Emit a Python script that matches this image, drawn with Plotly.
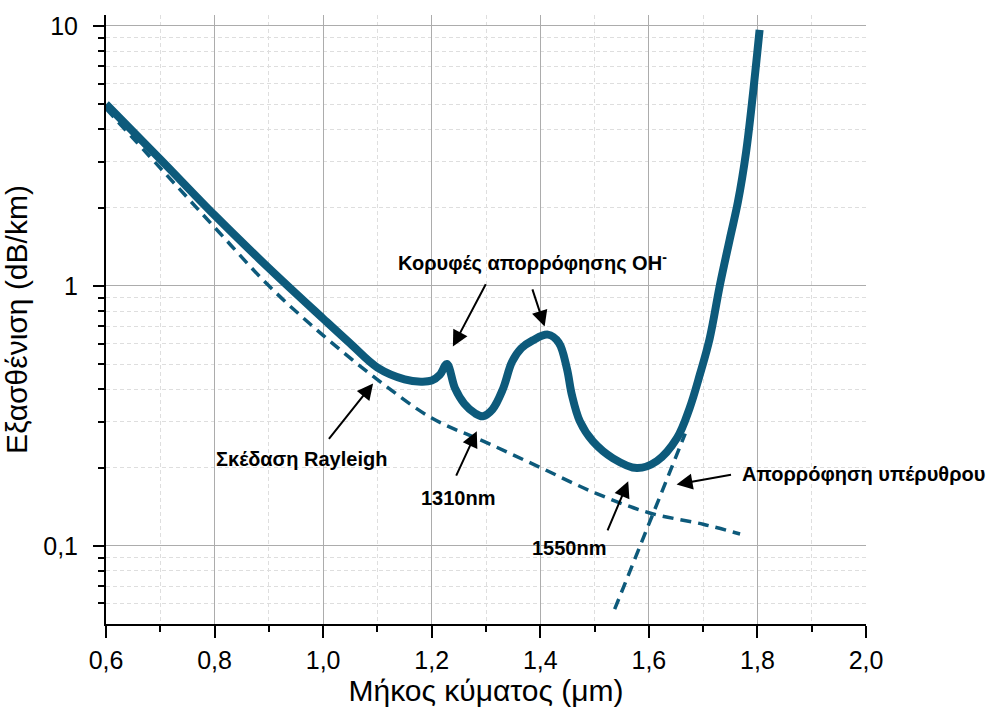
import math
import plotly.graph_objects as go

# ---- data ----
wl_total = [0.60, 0.70, 0.80, 0.90, 1.00, 1.05, 1.10, 1.15, 1.18, 1.20, 1.215, 1.228,
            1.243, 1.26, 1.28, 1.294, 1.312, 1.331, 1.348, 1.365, 1.386, 1.414, 1.434,
            1.449, 1.458, 1.473, 1.497, 1.534, 1.578, 1.615, 1.652, 1.675, 1.694,
            1.712, 1.731, 1.749, 1.764, 1.779, 1.790, 1.804]
att_total = [5.0, 3.07, 1.87, 1.17, 0.748, 0.60, 0.485, 0.437, 0.428, 0.432, 0.455, 0.50,
             0.403, 0.352, 0.323, 0.315, 0.335, 0.40, 0.51, 0.575, 0.617, 0.649, 0.605,
             0.481, 0.382, 0.301, 0.252, 0.217, 0.199, 0.212, 0.26, 0.338, 0.456,
             0.627, 1.01, 1.51, 2.1, 3.26, 5.07, 9.66]

wl_rayleigh = [0.60, 0.70, 0.80, 0.90, 1.00, 1.10, 1.20, 1.30, 1.40, 1.50, 1.60, 1.70, 1.768]
att_rayleigh = [4.8, 2.84, 1.68, 1.0, 0.645, 0.436, 0.31, 0.25, 0.2, 0.16, 0.134, 0.121, 0.111]

wl_ir = [1.537, 1.602, 1.667]
att_ir = [0.057, 0.124, 0.27]

x_ticks = [0.6, 0.8, 1.0, 1.2, 1.4, 1.6, 1.8, 2.0]
x_ticktext = ["0,6", "0,8", "1,0", "1,2", "1,4", "1,6", "1,8", "2,0"]
x_minor = [0.7, 0.9, 1.1, 1.3, 1.5, 1.7, 1.9]
y_ticks = [0.1, 1, 10]
y_ticktext = ["0,1", "1", "10"]
y_minor = [0.06, 0.07, 0.08, 0.09, 0.2, 0.3, 0.4, 0.5, 0.6, 0.7, 0.8, 0.9,
           2, 3, 4, 5, 6, 7, 8, 9]

# labels: (text, x, y)
labels = [
    ("<b>Κορυφές απορρόφησης OH<sup>-</sup></b>", 1.385, 1.236),
    ("<b>Σκέδαση Rayleigh</b>", 0.961, 0.216),
    ("<b>1310nm</b>", 1.250, 0.153),
    ("<b>1550nm</b>", 1.454, 0.098),
    ("<b>Απορρόφηση υπέρυθρου</b>", 1.995, 0.189),
]
# arrows: (head x, head y, tail x, tail y)
arrows = [
    (1.239, 0.584, 1.302, 1.036),
    (1.408, 0.697, 1.384, 0.991),
    (1.092, 0.421, 1.007, 0.252),
    (1.283, 0.276, 1.243, 0.182),
    (1.562, 0.177, 1.522, 0.112),
    (1.651, 0.172, 1.755, 0.188),
]

COLOR = "#0d5a7b"
FONT = "Liberation Sans, Arial, sans-serif"

fig = go.Figure()
fig.add_trace(go.Scatter(x=wl_rayleigh, y=att_rayleigh, mode="lines",
                         line=dict(color=COLOR, width=3.5, dash="11px,7px", shape="spline", smoothing=1.0),
                         showlegend=False, hoverinfo="skip"))
fig.add_trace(go.Scatter(x=wl_ir, y=att_ir, mode="lines",
                         line=dict(color=COLOR, width=3.5, dash="11px,7px"),
                         showlegend=False, hoverinfo="skip"))
fig.add_trace(go.Scatter(x=wl_total, y=att_total, mode="lines",
                         line=dict(color=COLOR, width=8, shape="spline", smoothing=1.0),
                         showlegend=False))

annotations = []
for text, x, y in labels:
    annotations.append(dict(text=text, x=x, y=math.log10(y), xref="x", yref="y",
                            showarrow=False, font=dict(size=20, color="black", family=FONT),
                            xanchor="center", yanchor="middle"))
for hx, hy, tx, ty in arrows:
    annotations.append(dict(text=" ", x=hx, y=math.log10(hy), ax=tx, ay=math.log10(ty),
                            xref="x", yref="y", axref="x", ayref="y", showarrow=True,
                            arrowhead=2, arrowsize=1.6, arrowwidth=2, arrowcolor="black",
                            standoff=0, startstandoff=0, font=dict(size=2)))

fig.update_layout(
    width=995, height=721,
    margin=dict(l=106, r=129, t=12, b=97),
    paper_bgcolor="white", plot_bgcolor="white",
    font=dict(family=FONT, color="black"),
    annotations=annotations,
    showlegend=False,
)
fig.update_xaxes(
    range=[0.6, 2.0], tickvals=x_ticks, ticktext=x_ticktext,
    ticks="outside", ticklen=12, tickwidth=2, tickcolor="black",
    showline=True, linecolor="black", linewidth=2, mirror=False,
    showgrid=True, gridcolor="#acacac", gridwidth=1, zeroline=False,
    tickfont=dict(size=25, family=FONT, color="black"), ticklabelstandoff=1,
    minor=dict(tickvals=x_minor, ticks="outside", ticklen=6, tickwidth=2, tickcolor="black",
               showgrid=True, gridcolor="#dedede", griddash="4px,3px", gridwidth=1),
    title=dict(text="Μήκος κύματος (μm)", font=dict(size=30, family=FONT, color="black"), standoff=5),
)
fig.update_yaxes(
    type="log", range=[math.log10(0.05), 1.042], tickvals=y_ticks, ticktext=y_ticktext,
    ticks="outside", ticklen=11, tickwidth=2, tickcolor="black",
    showline=True, linecolor="black", linewidth=2, mirror=False,
    showgrid=True, gridcolor="#acacac", gridwidth=1, zeroline=False,
    tickfont=dict(size=25, family=FONT, color="black"), ticklabelstandoff=10,
    minor=dict(tickvals=y_minor, ticks="outside", ticklen=6, tickwidth=2, tickcolor="black",
               showgrid=True, gridcolor="#dedede", griddash="4px,3px", gridwidth=1),
    title=dict(text="Εξασθένιση (dB/km)", font=dict(size=30, family=FONT, color="black"), standoff=8),
)

fig.write_html("out.html")
